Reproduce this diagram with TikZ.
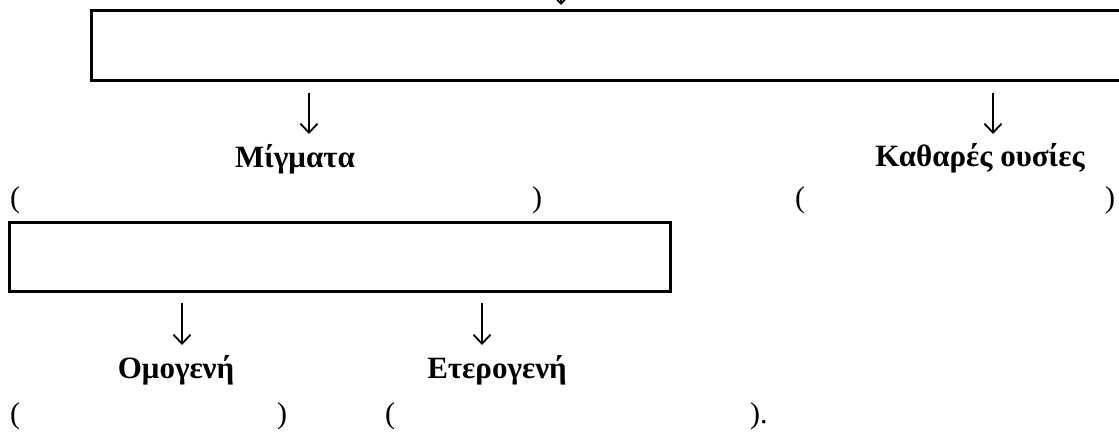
\documentclass[tikz,border=0pt]{standalone}
\usepackage{fontspec}
\setmainfont{Liberation Serif}
\usetikzlibrary{arrows.meta}
\begin{document}
\begin{tikzpicture}[x=1pt,y=-1pt,
  box/.style={draw, line width=3pt, inner sep=0pt, outer sep=0pt, anchor=north west},
  lab/.style={font=\fontsize{31}{33}\selectfont\bfseries, anchor=base, inner sep=0pt},
  paren/.style={font=\fontsize{30}{32}\selectfont, anchor=base, inner sep=0pt},
  arr/.style={line width=1.8pt, -{Straight Barb[length=9pt,width=17pt]}}]
\useasboundingbox (0,0) rectangle (1119,432);
% boxes
\node[box, minimum width=1060pt, minimum height=70pt] (box1) at (91,10) {};
\node[box, minimum width=661pt, minimum height=69pt] (box2) at (9,222) {};
% labels
\node[lab] (mig) at (295,167) {Μίγματα};
\node[lab] (kath) at (980,166) {Καθαρές ουσίες};
\node[lab] (omo) at (176,378) {Ομογενή};
\node[lab] (ete) at (497,378) {Ετερογενή};
% parentheses row 1
\node[paren, anchor=base west] (p1) at (10,207) {(};
\node[paren] (p2) at (537,207) {)};
\node[paren] (p3) at (800,207) {(};
\node[paren] (p4) at (1110,207) {)};
% parentheses row 2
\node[paren, anchor=base west] (q1) at (10,423) {(};
\node[paren] (q2) at (282,423) {)};
\node[paren] (q3) at (390,423) {(};
\node[paren, anchor=base west] (q4) at (750,423) {).};
% arrow coordinates
\coordinate (t0) at (561,-40);
\coordinate (t1) at (561,5);
\coordinate (a1) at (309,93);
\coordinate (b1) at (309,134);
\coordinate (a2) at (993,93);
\coordinate (b2) at (993,134);
\coordinate (a3) at (182,303);
\coordinate (b3) at (182,345);
\coordinate (a4) at (482,303);
\coordinate (b4) at (482,345);
% arrows
\draw[arr] (t0) -- (t1);
\draw[arr] (a1) -- (b1);
\draw[arr] (a2) -- (b2);
\draw[arr] (a3) -- (b3);
\draw[arr] (a4) -- (b4);
\end{tikzpicture}
\end{document}
